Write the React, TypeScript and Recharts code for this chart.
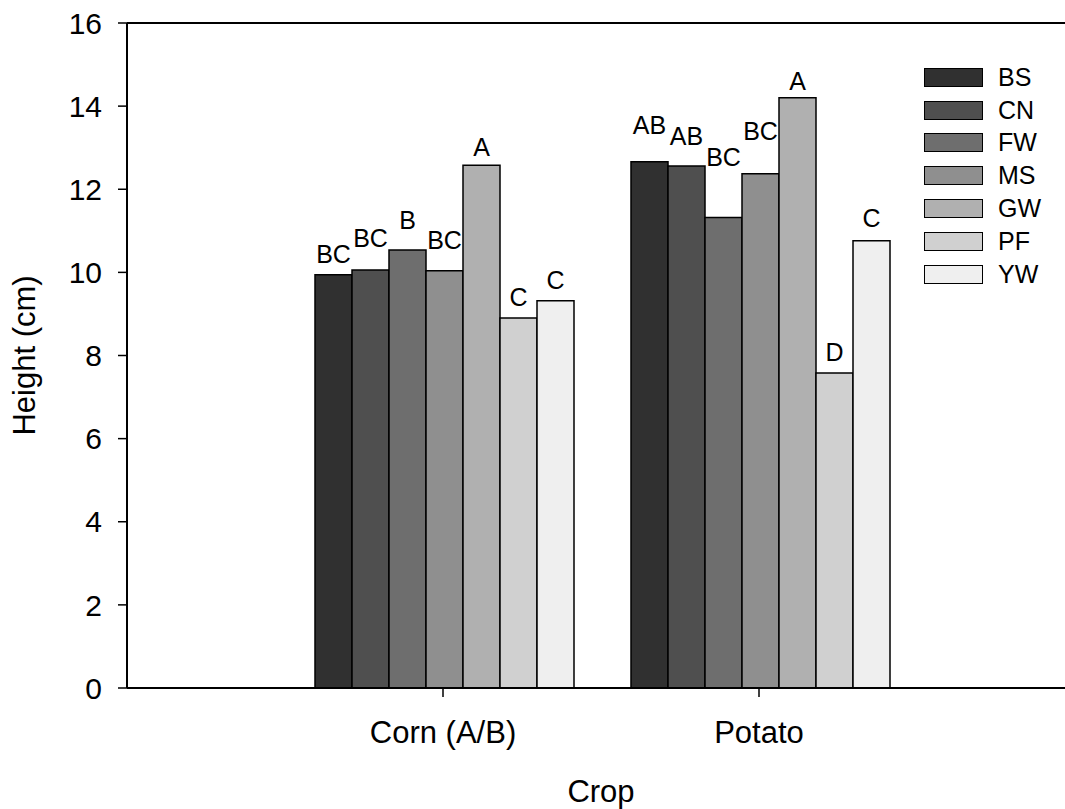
import React from "react";
import {
  BarChart,
  Bar,
  XAxis,
  YAxis,
  LabelList,
  ReferenceLine,
} from "recharts";

const crops = ["Corn (A/B)", "Potato"];
const treatments = ["BS", "CN", "FW", "MS", "GW", "PF", "YW"];
const cornHeight = [9.94, 10.06, 10.54, 10.04, 12.58, 8.9, 9.32];
const potatoHeight = [12.66, 12.56, 11.32, 12.37, 14.2, 7.58, 10.76];
const cornLetters = ["BC", "BC", "B", "BC", "A", "C", "C"];
const potatoLetters = ["AB", "AB", "BC", "BC", "A", "D", "C"];
// height (cm) at which each letter sits (mean + SE, bars not drawn)
const cornLetterAt = [10.45, 10.83, 11.27, 10.77, 13.01, 9.41, 9.82];
const potatoLetterAt = [13.55, 13.28, 12.78, 13.41, 14.61, 8.08, 11.31];
const yTicks = [0, 2, 4, 6, 8, 10, 12, 14, 16];

const fills = ["#303030", "#4f4f4f", "#6e6e6e", "#8f8f8f", "#b0b0b0", "#d0d0d0", "#efefef"];
const FONT = "'Liberation Sans', Arial, sans-serif";

const heights = [cornHeight, potatoHeight];
const letters = [cornLetters, potatoLetters];
const letterAt = [cornLetterAt, potatoLetterAt];

const rows = crops.map((crop, c) => {
  const row: Record<string, string | number> = { crop };
  treatments.forEach((t, i) => {
    row[t] = heights[c][i];
  });
  return row;
});

function letterLabel(t: number) {
  return (p: any) => {
    const box = p.viewBox ?? p;
    const idx = p.index ?? 0;
    const value = heights[idx][t];
    const base = box.y + box.height;
    const perUnit = box.height / value;
    const y = base - letterAt[idx][t] * perUnit;
    return (
      <text
        x={box.x + box.width / 2}
        y={y}
        textAnchor="middle"
        dominantBaseline="central"
        fontFamily={FONT}
        fontSize={25}
        fill="#000"
      >
        {letters[idx][t]}
      </text>
    );
  };
}

function LegendBox() {
  return (
    <div
      style={{
        position: "absolute",
        left: 924,
        top: 61,
        fontFamily: FONT,
        fontSize: 25,
        color: "#000",
      }}
    >
      {treatments.map((t, i) => (
        <div key={t} style={{ display: "flex", alignItems: "center", height: 32.8 }}>
          <div
            style={{
              width: 57,
              height: 17,
              background: fills[i],
              border: "1.5px solid #000",
              marginRight: 15,
            }}
          />
          <span>{t}</span>
        </div>
      ))}
    </div>
  );
}

export default function App() {
  return (
    <div
      style={{
        position: "absolute",
        left: 0,
        top: 0,
        width: 1065,
        height: 809,
        overflow: "hidden",
        background: "#fff",
      }}
    >
      <BarChart
        width={1090}
        height={809}
        data={rows}
        margin={{ top: 23, right: 15, left: 0, bottom: 0 }}
        barGap={0}
        barCategoryGap={30}
      >
        <XAxis
          dataKey="crop"
          height={121}
          padding={{ left: 158, right: 158 }}
          tickSize={9}
          tickMargin={24}
          axisLine={{ stroke: "#000", strokeWidth: 2 }}
          tickLine={{ stroke: "#000", strokeWidth: 1.5 }}
          tick={{ fill: "#000", fontSize: 31, fontFamily: FONT }}
          label={(p: any) => {
            const vb = p.viewBox;
            return (
              <text
                x={vb.x + vb.width / 2}
                y={791}
                textAnchor="middle"
                dominantBaseline="central"
                fontFamily={FONT}
                fontSize={31}
              >
                Crop
              </text>
            );
          }}
        />
        <YAxis
          width={127}
          domain={[0, 16]}
          ticks={yTicks}
          interval={0}
          tickSize={9}
          tickMargin={16}
          axisLine={{ stroke: "#000", strokeWidth: 2 }}
          tickLine={{ stroke: "#000", strokeWidth: 1.5 }}
          tick={{ fill: "#000", fontSize: 30, fontFamily: FONT }}
          label={(p: any) => {
            const vb = p.viewBox;
            const cy = vb.y + vb.height / 2;
            return (
              <text
                x={24}
                y={cy}
                transform={`rotate(-90 24 ${cy})`}
                textAnchor="middle"
                dominantBaseline="central"
                fontFamily={FONT}
                fontSize={31}
              >
                Height (cm)
              </text>
            );
          }}
        />
        <ReferenceLine y={16} stroke="#000" strokeWidth={2} />
        {treatments.map((t, i) => (
          <Bar
            key={t}
            dataKey={t}
            fill={fills[i]}
            stroke="#000"
            strokeWidth={1.5}
            isAnimationActive={false}
          >
            <LabelList dataKey={t} content={letterLabel(i)} />
          </Bar>
        ))}
      </BarChart>
      <LegendBox />
    </div>
  );
}
